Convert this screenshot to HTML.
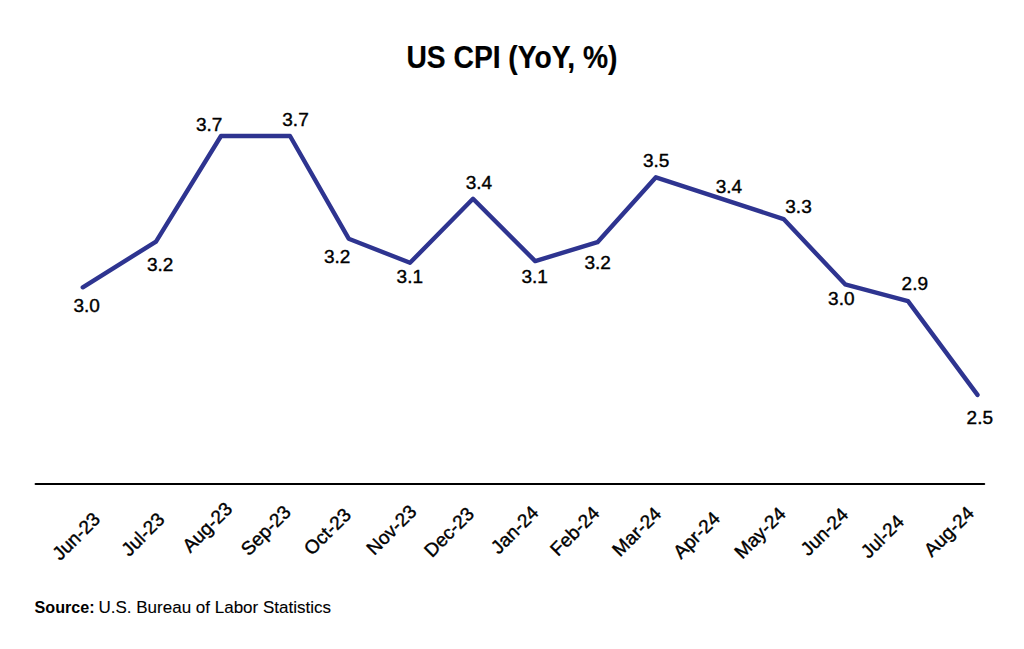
<!DOCTYPE html><html><head><meta charset="utf-8"><style>html,body{margin:0;padding:0;background:#fff;width:1024px;height:649px;overflow:hidden}svg{display:block}text{font-family:"Liberation Sans",sans-serif;fill:#000;stroke:#000;stroke-width:0.4}</style></head><body>
<svg width="1024" height="649" viewBox="0 0 1024 649">
<text transform="translate(512 68) scale(0.91 1)" font-size="31" font-weight="bold" text-anchor="middle" style="stroke-width:0.2">US CPI (YoY, %)</text>
<path d="M82.8 287.3 L156 241.6 L221 136 L290 136 L348.7 238.7 L410 262.8 L473 198.8 L535.2 261.1 L597.5 242.2 L655.9 177.3 L783.6 219.1 L845.1 284.3 L908 301.1 L977.5 394.9" fill="none" stroke="#2e3490" stroke-width="4.4" stroke-linejoin="round" stroke-linecap="round"/>
<line x1="35.6" y1="484" x2="984.2" y2="484" stroke="#000" stroke-width="2.1" stroke-linecap="round"/>
<text x="86.6" y="311.85" font-size="19" text-anchor="middle">3.0</text>
<text x="160.1" y="271.45" font-size="19" text-anchor="middle">3.2</text>
<text x="209.2" y="131.3" font-size="19" text-anchor="middle">3.7</text>
<text x="295.5" y="126.3" font-size="19" text-anchor="middle">3.7</text>
<text x="337.1" y="262.5" font-size="19" text-anchor="middle">3.2</text>
<text x="409.8" y="282.75" font-size="19" text-anchor="middle">3.1</text>
<text x="478.9" y="189.4" font-size="19" text-anchor="middle">3.4</text>
<text x="534.6" y="283.15" font-size="19" text-anchor="middle">3.1</text>
<text x="597.7" y="268.8" font-size="19" text-anchor="middle">3.2</text>
<text x="656.2" y="167.25" font-size="19" text-anchor="middle">3.5</text>
<text x="728.9" y="193.2" font-size="19" text-anchor="middle">3.4</text>
<text x="798.5" y="213.4" font-size="19" text-anchor="middle">3.3</text>
<text x="841.3" y="305.35" font-size="19" text-anchor="middle">3.0</text>
<text x="914.8" y="290.4" font-size="19" text-anchor="middle">2.9</text>
<text x="979.8" y="423.7" font-size="19" text-anchor="middle">2.5</text>
<text transform="translate(80.8 540.8) rotate(-45)" font-size="19" text-anchor="middle">Jun-23</text>
<text transform="translate(147.5 538.9) rotate(-45)" font-size="19" text-anchor="middle">Jul-23</text>
<text transform="translate(211.8 531.8) rotate(-45)" font-size="19" text-anchor="middle">Aug-23</text>
<text transform="translate(270.4 535) rotate(-45)" font-size="19" text-anchor="middle">Sep-23</text>
<text transform="translate(332 536.1) rotate(-45)" font-size="19" text-anchor="middle">Oct-23</text>
<text transform="translate(396 534.4) rotate(-45)" font-size="19" text-anchor="middle">Nov-23</text>
<text transform="translate(453.6 536.6) rotate(-45)" font-size="19" text-anchor="middle">Dec-23</text>
<text transform="translate(519.3 534.4) rotate(-45)" font-size="19" text-anchor="middle">Jan-24</text>
<text transform="translate(579.4 535.6) rotate(-45)" font-size="19" text-anchor="middle">Feb-24</text>
<text transform="translate(641.3 536.2) rotate(-45)" font-size="19" text-anchor="middle">Mar-24</text>
<text transform="translate(701.1 539.6) rotate(-45)" font-size="19" text-anchor="middle">Apr-24</text>
<text transform="translate(764.6 537.4) rotate(-45)" font-size="19" text-anchor="middle">May-24</text>
<text transform="translate(829 536.3) rotate(-45)" font-size="19" text-anchor="middle">Jun-24</text>
<text transform="translate(887 541) rotate(-45)" font-size="19" text-anchor="middle">Jul-24</text>
<text transform="translate(953.5 536) rotate(-45)" font-size="19" text-anchor="middle">Aug-24</text>
<text transform="translate(34.5 613.4) scale(0.95 1)" font-size="17" font-weight="bold" style="stroke-width:0">Source:</text>
<text transform="translate(98.5 613.4) scale(1 1)" font-size="17" style="stroke-width:0.1">U.S. Bureau of Labor Statistics</text>
</svg></body></html>
